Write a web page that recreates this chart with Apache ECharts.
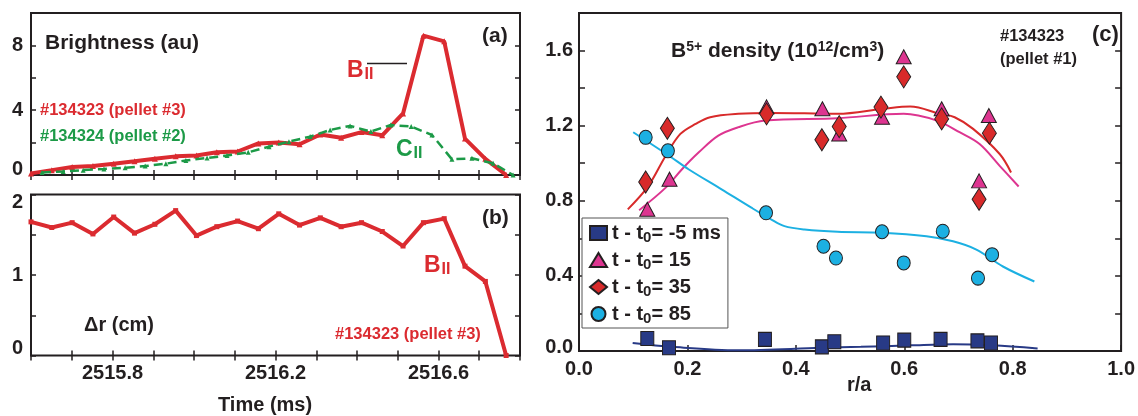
<!DOCTYPE html>
<html><head><meta charset="utf-8">
<script src="https://cdn.jsdelivr.net/npm/echarts@6.0.0/dist/echarts.min.js"></script>
<style>html,body{margin:0;padding:0;background:#fff}#c{width:1138px;height:416px}</style>
</head><body><div id="c"></div>
<script>
// ---------- panel (a)/(b) data ----------
const timeRed = [2515.600, 2515.651, 2515.701, 2515.752, 2515.803, 2515.854, 2515.904, 2515.955,
  2516.006, 2516.056, 2516.107, 2516.158, 2516.208, 2516.259, 2516.310, 2516.361, 2516.411,
  2516.462, 2516.513, 2516.563, 2516.614, 2516.665, 2516.715, 2516.766];
const brightB = [0.1, 0.3, 0.5, 0.55, 0.7, 0.85, 1.0, 1.15, 1.2, 1.4, 1.45, 1.95, 2.0, 1.9, 2.5,
  2.3, 2.65, 2.45, 3.8, 8.6, 8.25, 2.25, 1.0, 0.0];
const timeGreen = [2515.627, 2515.679, 2515.728, 2515.779, 2515.831, 2515.880, 2515.931, 2515.980,
  2516.032, 2516.081, 2516.133, 2516.184, 2516.233, 2516.285, 2516.334, 2516.383, 2516.434,
  2516.483, 2516.533, 2516.584, 2516.633, 2516.682, 2516.734, 2516.783];
const brightC = [0.15, 0.22, 0.3, 0.37, 0.45, 0.55, 0.7, 0.9, 1.05, 1.2, 1.4, 1.75, 2.06, 2.37,
  2.78, 3.03, 2.68, 3.09, 2.99, 2.47, 0.97, 1.03, 0.72, 0.0];
const deltaR = [1.66, 1.59, 1.65, 1.51, 1.72, 1.52, 1.63, 1.80, 1.49, 1.60, 1.67, 1.575, 1.76,
  1.62, 1.71, 1.60, 1.65, 1.54, 1.36, 1.65, 1.70, 1.11, 0.92, 0.0];
const timeTickLabels = ['2515.8', '2516.2', '2516.6'];
const brightTickLabels = [0, 4, 8];
const drTickLabels = [0, 1, 2];

// ---------- panel (c) data : [r/a, density] ----------
const ptsM5 = [[0.126,0.067],[0.166,0.017],[0.343,0.062],[0.448,0.022],[0.471,0.049],[0.561,0.043],[0.600,0.058],[0.667,0.062],[0.735,0.054],[0.760,0.043]];
const pts15 = [[0.126,0.755],[0.167,0.915],[0.346,1.300],[0.449,1.290],[0.480,1.156],[0.559,1.245],[0.599,1.567],[0.669,1.290],[0.738,0.906],[0.756,1.254]];
const pts35 = [[0.123,0.900],[0.163,1.186],[0.346,1.263],[0.448,1.125],[0.480,1.195],[0.557,1.299],[0.599,1.460],[0.669,1.236],[0.738,0.808],[0.757,1.160]];
const pts85 = [[0.123,1.138],[0.164,1.066],[0.345,0.736],[0.451,0.558],[0.474,0.495],[0.559,0.635],[0.599,0.469],[0.671,0.638],[0.736,0.388],[0.762,0.513]];
const fitM5 = [[0.099,0.043],[0.172,0.022],[0.294,0.004],[0.446,0.017],[0.520,0.022],[0.611,0.030],[0.690,0.036],[0.763,0.030],[0.846,0.013]];
const fit15 = [[0.111,0.750],[0.160,0.870],[0.190,0.968],[0.221,1.058],[0.257,1.147],[0.294,1.192],[0.343,1.227],[0.477,1.240],[0.599,1.263],[0.660,1.227],[0.702,1.165],[0.739,1.102],[0.776,0.986],[0.811,0.876]];
const fit35 = [[0.090,0.754],[0.127,0.875],[0.160,1.040],[0.187,1.156],[0.215,1.209],[0.242,1.245],[0.294,1.263],[0.354,1.268],[0.477,1.263],[0.562,1.290],[0.611,1.302],[0.666,1.263],[0.693,1.245],[0.727,1.183],[0.776,1.049],[0.797,0.951]];
const fit85 = [[0.100,1.165],[0.166,1.040],[0.202,0.968],[0.263,0.861],[0.318,0.763],[0.355,0.700],[0.379,0.665],[0.416,0.647],[0.477,0.635],[0.559,0.630],[0.641,0.611],[0.690,0.584],[0.733,0.540],[0.782,0.450],[0.840,0.370]];
const legendNames = ['m5', 'p15', 'p35', 'p85'];
const legendValues = ['-5 ms', '15', '35', '85'];

const FONT = '"Liberation Sans", Arial, Helvetica, sans-serif';
const INK = '#231f20';
const RED = '#db2b30';
const GREEN = '#1c9a47';
const MAG = '#dd3590';
const DRED = '#d82a2a';
const CYAN = '#1cb0e2';
const NAVY = '#283a86';

const lbl = {fontSize: 20, fontWeight: 'bold', fontFamily: FONT, color: INK};
const tick = (len) => ({show: true, inside: true, length: len || 5, lineStyle: {color: INK, width: 1.5}});
const noLabel = {show: false};
const blank = {axisLine: {show: false}, splitLine: {show: false}};

const chart = echarts.init(document.getElementById('c'));
const pair = (xs, ys) => xs.map((x, i) => [x, ys[i]]);

const option = {
  animation: false,
  backgroundColor: '#fff',
  grid: [
    {left: 31, top: 13, width: 489, height: 162, show: true, borderColor: INK, borderWidth: 2, backgroundColor: 'transparent'},
    {left: 31, top: 194.5, width: 489, height: 161, show: true, borderColor: INK, borderWidth: 2, backgroundColor: 'transparent'},
    {left: 579, top: 13, width: 547, height: 338, show: true, borderColor: INK, borderWidth: 2, backgroundColor: 'transparent'}
  ],
  xAxis: [
    Object.assign({gridIndex: 0, type: 'value', min: 2515.6, max: 2516.8, interval: 0.1, position: 'bottom', axisTick: tick(), axisLabel: noLabel}, blank),
    Object.assign({gridIndex: 0, type: 'value', min: 2515.6, max: 2516.8, interval: 0.1, position: 'top', axisTick: tick(), axisLabel: noLabel}, blank),
    Object.assign({gridIndex: 1, type: 'value', min: 2515.6, max: 2516.8, interval: 0.1, position: 'bottom', axisTick: tick(),
      axisLabel: Object.assign({show: true, margin: 8, formatter: v => { const s = v.toFixed(1); return timeTickLabels.includes(s) ? s : ''; }}, lbl)}, blank),
    Object.assign({gridIndex: 1, type: 'value', min: 2515.6, max: 2516.8, interval: 0.1, position: 'top', axisTick: tick(), axisLabel: noLabel}, blank),
    Object.assign({gridIndex: 2, type: 'value', min: 0, max: 1, interval: 0.2, position: 'bottom', axisTick: tick(6),
      axisLabel: Object.assign({show: true, margin: 8, formatter: v => v.toFixed(1)}, lbl)}, blank)
  ],
  yAxis: [
    Object.assign({gridIndex: 0, type: 'value', min: 0, max: 10, interval: 2, position: 'left', axisTick: tick(),
      axisLabel: Object.assign({show: true, margin: 8, formatter: v => {
        if (!brightTickLabels.includes(v)) return '';
        return v === 0 ? '{lo|0}' : String(v);
      }, rich: {lo: Object.assign({padding: [0, 0, 12, 0]}, lbl)}}, lbl)}, blank),
    Object.assign({gridIndex: 0, type: 'value', min: 0, max: 10, interval: 2, position: 'right', axisTick: tick(), axisLabel: noLabel}, blank),
    Object.assign({gridIndex: 1, type: 'value', min: 0, max: 2, interval: 0.5, position: 'left', axisTick: tick(),
      axisLabel: Object.assign({show: true, margin: 8, formatter: v => {
        if (!drTickLabels.includes(v)) return '';
        if (v === 0) return '{lo|0}';
        if (v === 2) return '{hi|2}';
        return String(v);
      }, rich: {lo: Object.assign({padding: [0, 0, 14, 0]}, lbl), hi: Object.assign({padding: [16, 0, 0, 0]}, lbl)}}, lbl)}, blank),
    Object.assign({gridIndex: 1, type: 'value', min: 0, max: 2, interval: 0.5, position: 'right', axisTick: tick(), axisLabel: noLabel}, blank),
    Object.assign({gridIndex: 2, type: 'value', min: 0, max: 1.8, interval: 0.2, position: 'left', axisTick: tick(6),
      axisLabel: Object.assign({show: true, margin: 6, formatter: v => {
        const k = Math.round(v * 10);
        if (k % 4 !== 0) return '';
        return k === 0 ? '{lo|0.0}' : v.toFixed(1);
      }, rich: {lo: Object.assign({padding: [0, 0, 8, 0]}, lbl)}}, lbl)}, blank),
    Object.assign({gridIndex: 2, type: 'value', min: 0, max: 1.8, interval: 0.2, position: 'right', axisTick: tick(6), axisLabel: noLabel}, blank)
  ],
  legend: {
    left: 582, top: 218, orient: 'vertical', selectedMode: false,
    backgroundColor: '#fff', borderColor: '#555', borderWidth: 1,
    padding: [3, 7, 2, 7], itemGap: 3, itemWidth: 17, itemHeight: 14,
    data: [
      {name: 'm5', icon: 'rect'}, {name: 'p15', icon: 'triangle'},
      {name: 'p35', icon: 'diamond'}, {name: 'p85', icon: 'circle'}
    ],
    formatter: name => '{a|t - t}{b|0}{a|= ' + legendValues[legendNames.indexOf(name)] + '}',
    textStyle: {
      color: INK, fontFamily: FONT, fontWeight: 'bold', fontSize: 20,
      rich: {
        a: {fontSize: 20, fontWeight: 'bold', fontFamily: FONT, color: INK, lineHeight: 22},
        b: {fontSize: 15, fontWeight: 'bold', fontFamily: FONT, color: INK, lineHeight: 15, padding: [9, 0, 0, 0]}
      }
    }
  },
  series: [
    {type: 'line', name: 'redA', xAxisIndex: 0, yAxisIndex: 0, data: pair(timeRed, brightB),
      lineStyle: {color: RED, width: 4}, symbol: 'triangle', symbolSize: 6, itemStyle: {color: RED}, z: 2},
    {type: 'line', name: 'greenA', xAxisIndex: 0, yAxisIndex: 0, data: pair(timeGreen, brightC),
      lineStyle: {color: GREEN, width: 2.5, type: [9, 5]}, symbol: 'triangle', symbolSize: 5, itemStyle: {color: GREEN}, z: 3},
    {type: 'line', name: 'redB', xAxisIndex: 2, yAxisIndex: 2, data: pair(timeRed, deltaR),
      lineStyle: {color: RED, width: 4}, symbol: 'rect', symbolSize: 5, itemStyle: {color: RED}, z: 2},
    {type: 'line', name: 'fm5', xAxisIndex: 4, yAxisIndex: 4, data: fitM5, smooth: 0.35, showSymbol: false, lineStyle: {color: NAVY, width: 2}, z: 2},
    {type: 'line', name: 'f15', xAxisIndex: 4, yAxisIndex: 4, data: fit15, smooth: 0.35, showSymbol: false, lineStyle: {color: MAG, width: 2}, z: 2},
    {type: 'line', name: 'f35', xAxisIndex: 4, yAxisIndex: 4, data: fit35, smooth: 0.35, showSymbol: false, lineStyle: {color: DRED, width: 2}, z: 2},
    {type: 'line', name: 'f85', xAxisIndex: 4, yAxisIndex: 4, data: fit85, smooth: 0.35, showSymbol: false, lineStyle: {color: CYAN, width: 2}, z: 2},
    {type: 'scatter', name: 'm5', xAxisIndex: 4, yAxisIndex: 4, data: ptsM5, symbol: 'rect', symbolSize: [13, 14],
      itemStyle: {color: NAVY, borderColor: INK, borderWidth: 1, opacity: 1}, z: 3},
    {type: 'scatter', name: 'p15', xAxisIndex: 4, yAxisIndex: 4, data: pts15, symbol: 'triangle', symbolSize: [15, 14],
      itemStyle: {color: MAG, borderColor: INK, borderWidth: 1, opacity: 1}, z: 4},
    {type: 'scatter', name: 'p35', xAxisIndex: 4, yAxisIndex: 4, data: pts35, symbol: 'diamond', symbolSize: [14, 22],
      itemStyle: {color: DRED, borderColor: INK, borderWidth: 1, opacity: 1}, z: 5},
    {type: 'scatter', name: 'p85', xAxisIndex: 4, yAxisIndex: 4, data: pts85, symbol: 'circle', symbolSize: [13, 14],
      itemStyle: {color: CYAN, borderColor: INK, borderWidth: 1, opacity: 1}, z: 6}
  ],
  graphic: [
    {type: 'text', left: 45, top: 33, z: 50, style: {text: 'Brightness (au)', fontSize: 21, fontWeight: 'bold', fontFamily: FONT, fill: INK}},
    {type: 'text', left: 482, top: 26, z: 50, style: {text: '(a)', fontSize: 21, fontWeight: 'bold', fontFamily: FONT, fill: INK}},
    {type: 'text', left: 40, top: 102, z: 50, style: {text: '#134323 (pellet #3)', fontSize: 16.5, fontWeight: 'bold', fontFamily: FONT, fill: RED}},
    {type: 'text', left: 40, top: 128, z: 50, style: {text: '#134324 (pellet #2)', fontSize: 16.5, fontWeight: 'bold', fontFamily: FONT, fill: GREEN}},
    {type: 'text', left: 347, top: 54, z: 50, style: {text: '{b|B}{s|II}', rich: {
      b: {fontSize: 23, fontWeight: 'bold', fontFamily: FONT, fill: RED, color: RED, verticalAlign: 'top', lineHeight: 24},
      s: {fontSize: 16, fontWeight: 'bold', fontFamily: FONT, fill: RED, color: RED, verticalAlign: 'bottom', lineHeight: 16, padding: [13, 0, 0, 1]}}}},
    {type: 'line', z: 50, shape: {x1: 367, y1: 63.5, x2: 407, y2: 63.5}, style: {stroke: INK, lineWidth: 1.5}},
    {type: 'text', left: 396, top: 133, z: 50, style: {text: '{b|C}{s|II}', rich: {
      b: {fontSize: 23, fontWeight: 'bold', fontFamily: FONT, fill: GREEN, color: GREEN, verticalAlign: 'top', lineHeight: 24},
      s: {fontSize: 16, fontWeight: 'bold', fontFamily: FONT, fill: GREEN, color: GREEN, verticalAlign: 'bottom', lineHeight: 16, padding: [13, 0, 0, 1]}}}},
    {type: 'text', left: 482, top: 208, z: 50, style: {text: '(b)', fontSize: 21, fontWeight: 'bold', fontFamily: FONT, fill: INK}},
    {type: 'text', left: 424, top: 249, z: 50, style: {text: '{b|B}{s|II}', rich: {
      b: {fontSize: 23, fontWeight: 'bold', fontFamily: FONT, fill: RED, color: RED, verticalAlign: 'top', lineHeight: 24},
      s: {fontSize: 16, fontWeight: 'bold', fontFamily: FONT, fill: RED, color: RED, verticalAlign: 'bottom', lineHeight: 16, padding: [13, 0, 0, 1]}}}},
    {type: 'text', left: 84, top: 315, z: 50, style: {text: 'Δr (cm)', fontSize: 20, fontWeight: 'bold', fontFamily: FONT, fill: INK}},
    {type: 'text', left: 335, top: 326, z: 50, style: {text: '#134323 (pellet #3)', fontSize: 16.5, fontWeight: 'bold', fontFamily: FONT, fill: RED}},
    {type: 'text', left: 218, top: 395, z: 50, style: {text: 'Time (ms)', fontSize: 20, fontWeight: 'bold', fontFamily: FONT, fill: INK}},
    {type: 'text', left: 847, top: 375, z: 50, style: {text: 'r/a', fontSize: 20, fontWeight: 'bold', fontFamily: FONT, fill: INK}},
    {type: 'text', left: 671, top: 40, z: 50, style: {text: '{n|B}{p|5+}{n| density (10}{p|12}{n|/cm}{p|3}{n|)}', rich: {
      n: {fontSize: 21, fontWeight: 'bold', fontFamily: FONT, fill: INK, color: INK, verticalAlign: 'bottom', lineHeight: 22},
      p: {fontSize: 14, fontWeight: 'bold', fontFamily: FONT, fill: INK, color: INK, verticalAlign: 'top', lineHeight: 14, padding: [0, 0, 12, 0]}}}},
    {type: 'text', left: 1000, top: 25, z: 50, style: {text: '#134323\n(pellet #1)', fontSize: 16.5, lineHeight: 23, fontWeight: 'bold', fontFamily: FONT, fill: INK}},
    {type: 'text', left: 1092, top: 24, z: 50, style: {text: '(c)', fontSize: 22, fontWeight: 'bold', fontFamily: FONT, fill: INK}}
  ]
};
chart.setOption(option);
</script></body></html>
